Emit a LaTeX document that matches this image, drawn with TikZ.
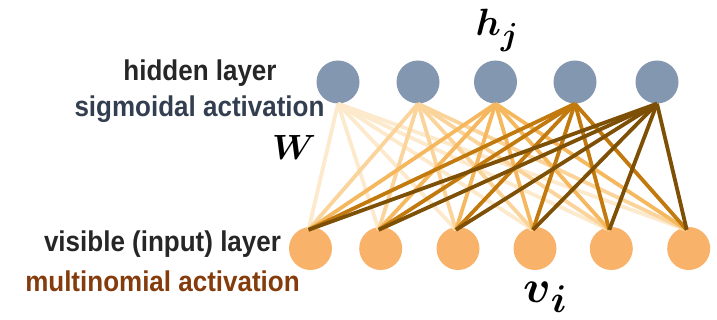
\RequirePackage{fix-cm}
\documentclass[tikz,border=0pt]{standalone}
\usepackage{amsmath}
\usepackage{graphicx}
\usepackage{fontspec}
\setmainfont{Liberation Sans}
\definecolor{hidfill}{HTML}{8497B0}
\definecolor{visfill}{HTML}{F9B26A}
\definecolor{sigc}{HTML}{333F50}
\definecolor{txtc}{HTML}{262626}
\definecolor{multc}{HTML}{843C0C}
\definecolor{ea}{HTML}{FDE9CC}
\definecolor{eb}{HTML}{FAD49A}
\definecolor{ec}{HTML}{F5B85E}
\definecolor{ed}{HTML}{C27A0E}
\definecolor{ee}{HTML}{7D5006}
\newcommand{\tallt}[1]{\scalebox{1}[1.1]{#1}}
\newcommand{\bigsub}[1]{\scalebox{1.2}{$\scriptstyle\boldsymbol{#1}$}}
\begin{document}
\begin{tikzpicture}[x=1pt,y=-1pt,
  hidnode/.style={circle,fill=hidfill,minimum size=43pt,inner sep=0pt},
  visnode/.style={circle,fill=visfill,minimum size=43pt,inner sep=0pt},
  lbl/.style={anchor=base,inner sep=0pt,font=\fontsize{26}{30}\selectfont\bfseries},
  edge/.style={line width=3.8pt}]
\useasboundingbox (0,0) rectangle (717,320);
% hidden nodes
\foreach \i/\x in {1/338,2/418,3/495.5,4/575,5/657}
  \node[hidnode] (h\i) at (\x,82) {};
% visible nodes
\foreach \i/\x in {1/310.5,2/380.7,3/458,4/535,5/611.3,6/688.7}
  \node[visnode] (v\i) at (\x,248.5) {};
\foreach \i in {1,...,6}
  \coordinate (vt\i) at ([xshift=-2pt,yshift=-3pt]v\i.north);
% edges
\foreach \j/\c in {1/ea,2/eb,3/ec,4/ed,5/ee}
  \foreach \i in {1,...,6}
    \draw[edge,draw=\c] (h\j.south) -- (vt\i);
% labels
\node[lbl,text=txtc] (t1) at (200,80.7) {\tallt{hidden layer}};
\node[lbl,text=sigc] (t2) at (199.5,117) {\tallt{sigmoidal activation}};
\node[lbl,text=txtc] (t3) at (162.5,251.7) {\tallt{visible (input) layer}};
\node[lbl,text=multc] (t4) at (162.5,291) {\tallt{multinomial activation}};
\node[inner sep=0pt,font=\fontsize{35}{40}\selectfont] (w) at (294,147) {$\boldsymbol{W}$};
\node[anchor=base,inner sep=0pt,font=\fontsize{38}{44}\selectfont] (hj) at (497,36) {$\boldsymbol{h}_{\bigsub{j}}$};
\node[anchor=base,inner sep=0pt,font=\fontsize{46}{52}\selectfont] (vi) at (545,302) {$\boldsymbol{v}_{\bigsub{i}}$};
\end{tikzpicture}
\end{document}
